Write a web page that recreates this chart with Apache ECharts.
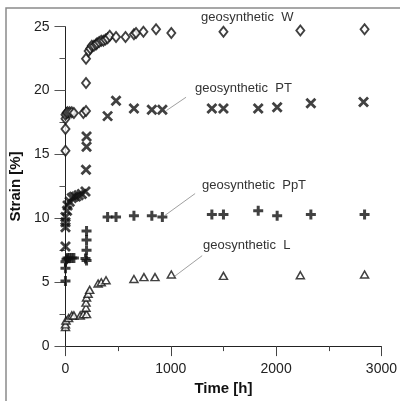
<!DOCTYPE html>
<html><head><meta charset="utf-8">
<script src="https://cdn.jsdelivr.net/npm/echarts@6/dist/echarts.min.js"></script>
<style>html,body{margin:0;padding:0;background:#fff}#c{width:400px;height:401px}</style>
</head><body><div id="c"></div>
<script>
// Data: [time h, strain %]
const seriesW = [[0,15.3],[0,17.0],[0,17.8],[0,18.1],[10,18.25],[20,18.3],[40,18.3],[60,18.3],[80,18.25],[170,18.25],[195,18.4],[195,20.6],[195,22.5],[220,23.1],[235,23.3],[250,23.5],[270,23.5],[290,23.6],[300,23.7],[320,23.8],[340,23.9],[360,23.9],[380,24.0],[400,24.1],[420,24.3],[480,24.2],[570,24.2],[650,24.4],[670,24.5],[740,24.6],[860,24.8],[1005,24.5],[1500,24.6],[2230,24.7],[2840,24.8]];
const seriesPT = [[0,7.8],[0,9.3],[0,9.7],[0,10.1],[15,10.6],[20,11.0],[40,11.3],[60,11.6],[80,11.7],[100,11.7],[125,11.8],[155,11.9],[190,12.1],[195,13.8],[200,15.6],[200,16.4],[400,18.0],[480,19.2],[650,18.6],[820,18.5],[920,18.5],[1390,18.6],[1500,18.6],[1830,18.6],[2010,18.7],[2330,19.0],[2830,19.1]];
const seriesPpT = [[0,5.1],[0,6.1],[0,6.6],[10,6.8],[20,6.9],[40,6.9],[60,6.9],[80,6.9],[190,6.85],[200,6.7],[200,7.5],[200,8.3],[200,9.0],[400,10.1],[480,10.1],[650,10.2],[820,10.2],[920,10.1],[1390,10.3],[1500,10.3],[1830,10.6],[2010,10.2],[2330,10.3],[2840,10.3]];
const seriesL = [[0,1.5],[0,1.7],[5,2.0],[30,2.2],[60,2.4],[80,2.4],[140,2.4],[170,2.5],[200,2.5],[195,3.0],[195,3.4],[200,3.8],[215,4.1],[230,4.4],[310,4.9],[340,5.0],[385,5.15],[650,5.25],[745,5.4],[850,5.4],[1005,5.6],[1500,5.5],[2230,5.55],[2840,5.6]];
const seriesNames = ['geosynthetic  W','geosynthetic  PT','geosynthetic  PpT','geosynthetic  L'];
// leader lines in data coordinates [from, to]
const leaders = [
  [[1055,24.59],[1296,25.44]],
  [[959,18.44],[1145,19.48]],
  [[943,10.22],[1231,11.94]],
  [[1036,5.46],[1298,7.08]]
];
const xTicks = {min:0,max:3000,interval:1000};
const yTicks = {min:0,max:25,interval:5};

const chart = echarts.init(document.getElementById('c'), null, {renderer:'canvas'});
const ff = '"Liberation Sans", Arial, sans-serif';
function ml(i){
  return {silent:true,symbol:['none','none'],label:{show:false},
    lineStyle:{color:'#888',width:0.8,type:'solid'},
    data:[[{coord:leaders[i][0]},{coord:leaders[i][1]}]]};
}
const ink = '#111';
chart.setOption({
  animation:false,
  grid:{left:63.3,right:13.3,top:26.7,bottom:50.3},
  xAxis:{type:'value',min:xTicks.min,max:xTicks.max,interval:xTicks.interval,
    name:'Time [h]',nameLocation:'middle',nameGap:34,
    nameTextStyle:{fontFamily:ff,fontSize:15,fontWeight:'bold',color:'#111'},
    axisLine:{onZero:false,lineStyle:{color:'#222',width:1}},
    axisTick:{show:true,length:10,lineStyle:{color:'#444'}},
    minorTick:{show:true,splitNumber:2,length:5,lineStyle:{color:'#444'}},
    splitLine:{show:false},
    axisLabel:{fontFamily:ff,fontSize:14,color:'#222',margin:16,formatter:v=>String(v)}},
  yAxis:{type:'value',min:yTicks.min,max:yTicks.max,interval:yTicks.interval,
    name:'Strain [%]',nameLocation:'middle',nameGap:31,
    nameTextStyle:{fontFamily:ff,fontSize:15,fontWeight:'bold',color:'#111'},
    axisLine:{onZero:false,lineStyle:{color:'#222',width:1}},
    axisTick:{show:true,length:11,lineStyle:{color:'#555'}},
    minorTick:{show:true,splitNumber:2,length:6,lineStyle:{color:'#555'}},
    splitLine:{show:false},
    axisLabel:{fontFamily:ff,fontSize:14,color:'#222',margin:16,formatter:v=>String(v)}},
  series:[
    {name:seriesNames[0],type:'scatter',data:seriesW,symbol:'diamond',symbolSize:[8,10],clip:false,
      itemStyle:{color:'#fff',borderColor:ink,borderWidth:1.9},markLine:ml(0)},
    {name:seriesNames[1],type:'scatter',data:seriesPT,symbol:'path://M0,0L10,10M0,10L10,0',symbolSize:9,clip:false,
      itemStyle:{color:'none',borderColor:ink,borderWidth:2.8},markLine:ml(1)},
    {name:seriesNames[2],type:'scatter',data:seriesPpT,symbol:'path://M5,0L5,10M0,5L10,5',symbolSize:10,clip:false,
      itemStyle:{color:'none',borderColor:ink,borderWidth:3},markLine:ml(2)},
    {name:seriesNames[3],type:'scatter',data:seriesL,symbol:'triangle',symbolSize:[8,7],clip:false,
      itemStyle:{color:'#fff',borderColor:ink,borderWidth:1.5},markLine:ml(3)}
  ],
  graphic:[
    {type:'rect',shape:{x:6,y:8,width:410,height:410},style:{fill:'none',stroke:'#8a8a8a',lineWidth:1.5},z:-1},
    {type:'text',x:201,y:17,style:{text:seriesNames[0],font:'13px '+ff,fill:'#333',textVerticalAlign:'middle'}},
    {type:'text',x:195,y:88,style:{text:seriesNames[1],font:'13px '+ff,fill:'#333',textVerticalAlign:'middle'}},
    {type:'text',x:202,y:185,style:{text:seriesNames[2],font:'13px '+ff,fill:'#333',textVerticalAlign:'middle'}},
    {type:'text',x:203,y:245,style:{text:seriesNames[3],font:'13px '+ff,fill:'#333',textVerticalAlign:'middle'}}
  ]
});
</script></body></html>
